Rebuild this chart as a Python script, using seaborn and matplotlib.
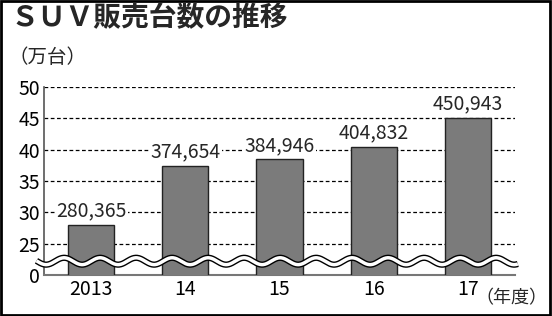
import numpy as np
import pandas as pd
import matplotlib
matplotlib.use("Agg")
import matplotlib.pyplot as plt
import seaborn as sns
from matplotlib.patches import Rectangle

years = ["2013", "14", "15", "16", "17"]
units_sold = [280365, 374654, 384946, 404832, 450943]
tick_values = [20, 25, 30, 35, 40, 45, 50]
tick_labels = ["0", "25", "30", "35", "40", "45", "50"]
title = "ＳＵＶ販売台数の推移"
y_unit = "（万台）"
x_unit = "（年度）"

sns.set_theme(style="white")
plt.rcParams["font.family"] = ["Noto Sans CJK JP", "DejaVu Sans"]

df = pd.DataFrame({"year": years, "value": [v / 10000 for v in units_sold]})

fig = plt.figure(figsize=(5.52, 3.16), dpi=100)
ax = fig.add_axes([44 / 552, 1 - 275 / 316, 471 / 552, (275 - 87) / 316])

sns.barplot(data=df, x="year", y="value", color="#7b7b7b", saturation=1,
            width=0.49, edgecolor="#222222", linewidth=1.0, ax=ax, zorder=3)

ax.set_xlim(-0.5, 4.5)
ax.set_ylim(20, 50)
ax.set_yticks(tick_values)
ax.set_yticklabels(tick_labels)
for t in tick_values[1:]:
    ax.axhline(t, color="black", lw=0.9, ls=(0, (3, 2)), zorder=1)

for s in ["top", "right"]:
    ax.spines[s].set_visible(False)
ax.spines["left"].set_color("#555555")
ax.spines["bottom"].set_color("#777777")
ax.spines["left"].set_linewidth(1.2)
ax.spines["bottom"].set_linewidth(1.5)
ax.tick_params(axis="both", length=0, labelsize=14, colors="black", pad=3)
ax.set_xlabel("")
ax.set_ylabel("")

# value labels
for i, v in enumerate(units_sold):
    ax.text(i, v / 10000 + 0.5, f"{v:,}", ha="center", va="bottom", fontsize=14,
            zorder=4, bbox=dict(facecolor="white", edgecolor="none", pad=1))

# wavy break line
xw = np.linspace(-0.58, 4.53, 800)
yw = 22.2 + 0.55 * np.sin(2 * np.pi * xw * 94.2 / 36)
ax.plot(xw, yw, color="black", lw=4.5, clip_on=False, zorder=5, solid_capstyle="butt")
ax.plot(xw, yw, color="white", lw=2.5, clip_on=False, zorder=6, solid_capstyle="butt")

# x unit
ax.text(4.08, -0.078, x_unit, transform=ax.get_xaxis_transform(), ha="left", va="top",
        fontsize=13)

fig.text(10 / 552, 1 - 4 / 316, title, ha="left", va="top", fontsize=20, fontweight="bold")
fig.text(8 / 552, 1 - 47 / 316, y_unit, ha="left", va="top", fontsize=14)

fig.patches.append(Rectangle((0.002, 0.003), 0.995, 0.993, transform=fig.transFigure,
                             fill=False, edgecolor="black", lw=2))

fig.savefig("out.png", dpi=100)
